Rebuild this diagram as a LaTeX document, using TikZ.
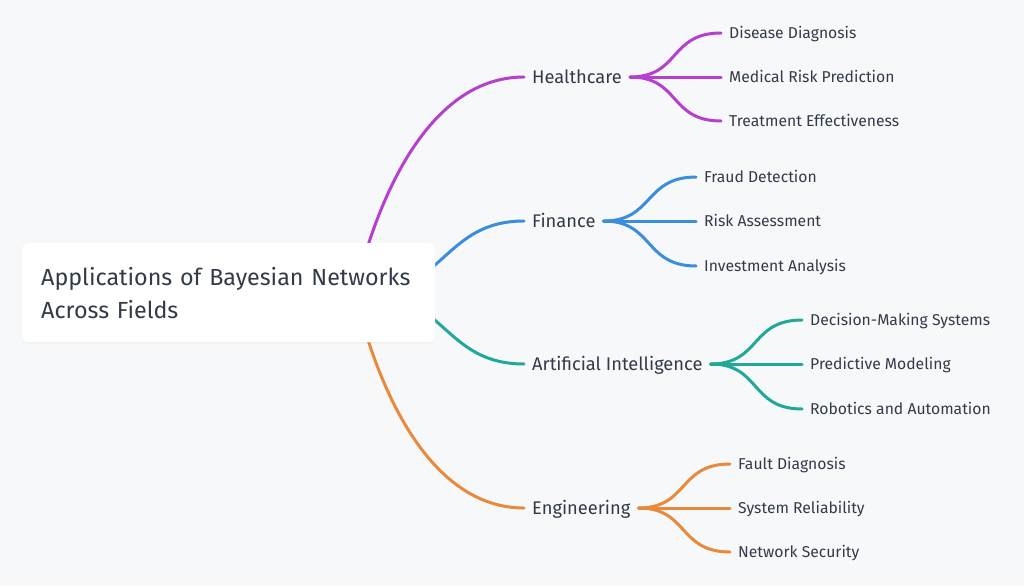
\documentclass[tikz,border=0pt]{standalone}
\usepackage{fontspec}
\setmainfont{Fira Sans}
\usetikzlibrary{backgrounds,shadows,calc}
\definecolor{bgc}{HTML}{F7F8FA}
\definecolor{txt}{HTML}{323B48}
\definecolor{cmag}{HTML}{B63FCF}
\definecolor{cblue}{HTML}{3A8EDB}
\definecolor{cteal}{HTML}{22A898}
\definecolor{corange}{HTML}{E8893C}
\tikzset{
  rootbox/.style={rectangle, rounded corners=6pt, fill=white, draw=none,
    minimum width=413pt, minimum height=99pt, anchor=north west,
    text width=375pt, inner xsep=19pt, inner ysep=0pt, align=left,
    font=\fontsize{23.3}{33.3}\selectfont, text=txt,
    drop shadow={opacity=0.06, shadow xshift=0pt, shadow yshift=-1.5pt}},
  branch/.style={anchor=west, inner xsep=8pt, inner ysep=0pt,
    text height=12.6pt, text depth=0pt, text=txt,
    font=\fontsize{18.3}{20}\selectfont},
  leaf/.style={anchor=west, inner xsep=8pt, inner ysep=0pt,
    text height=10.8pt, text depth=0pt, text=txt,
    font=\fontsize{15.7}{18}\selectfont},
  conn/.style={line width=3pt, line cap=round},
}
\begin{document}
\begin{tikzpicture}[x=1pt,y=-1pt]
\begin{pgfonlayer}{background}
\fill[bgc] (0,0) rectangle (1024,586);
\end{pgfonlayer}
\useasboundingbox (0,0) rectangle (1024,586);

\node[rootbox] (root) at (22,243) {Applications of Bayesian Networks\\Across Fields};

\node[branch] (hc) at (524,77) {Healthcare};
\node[branch] (fin) at (524,221) {Finance};
\node[branch] (ai) at (524,364) {Artificial Intelligence};
\node[branch] (eng) at (524,508) {Engineering};

\node[leaf] (hc1) at (721,33) {Disease Diagnosis};
\node[leaf] (hc2) at (721,77) {Medical Risk Prediction};
\node[leaf] (hc3) at (721,121) {Treatment Effectiveness};

\node[leaf] (fin1) at (696,177) {Fraud Detection};
\node[leaf] (fin2) at (696,221) {Risk Assessment};
\node[leaf] (fin3) at (696,266) {Investment Analysis};

\node[leaf] (ai1) at (802,320) {Decision-Making Systems};
\node[leaf] (ai2) at (802,364) {Predictive Modeling};
\node[leaf] (ai3) at (802,409) {Robotics and Automation};

\node[leaf] (eng1) at (730,464) {Fault Diagnosis};
\node[leaf] (eng2) at (730,508) {System Reliability};
\node[leaf] (eng3) at (730,552) {Network Security};

\begin{pgfonlayer}{background}
\draw[conn, cmag] ($(root.east)+(-80,0)$) .. controls +(0,0) and +(-127,0) .. (hc.west);
\draw[conn, cblue] ($(root.east)+(-71,0)$) .. controls +(80,0) and +(-80,0) .. (fin.west);
\draw[conn, cteal] ($(root.east)+(-71,0)$) .. controls +(80,0) and +(-80,0) .. (ai.west);
\draw[conn, corange] ($(root.east)+(-80,0)$) .. controls +(0,0) and +(-127,0) .. (eng.west);

\foreach \b/\c in {hc/cmag, fin/cblue, ai/cteal, eng/corange}{
  \foreach \i in {1,2,3}{
    \draw[conn, \c] (\b.east) .. controls +(50,0) and +(-52,0) .. (\b\i.west);
  }
}
\end{pgfonlayer}
\end{tikzpicture}
\end{document}
